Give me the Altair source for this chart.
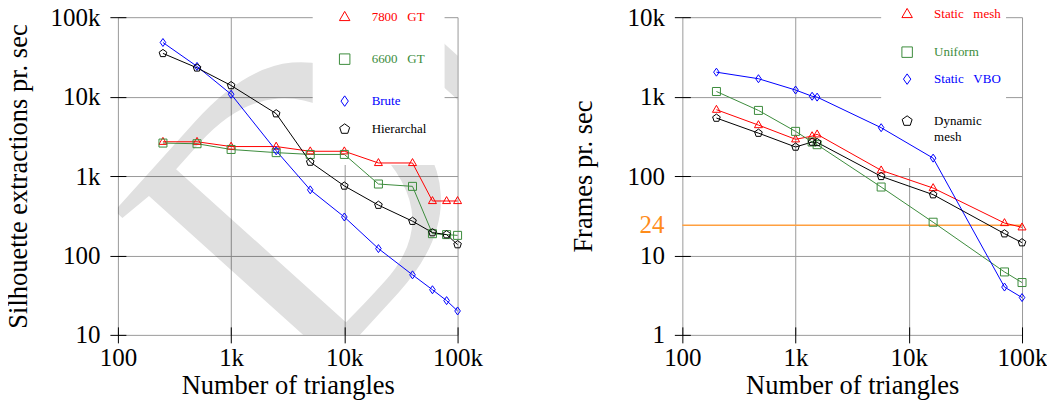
import altair as alt
import pandas as pd

# ---------------- data ----------------
left_n = [250, 500, 1000, 2500, 5000, 10000, 20000, 40000, 60000, 80000, 100000]
gt7800 = [2700, 2700, 2350, 2350, 2050, 2050, 1460, 1460, 485, 485, 485]
gt6600 = [2600, 2550, 2160, 1970, 1870, 1870, 793, 741, 188, 183, 179]
brute = [48000, 24000, 10700, 2080, 670, 305, 122, 57, 37, 27, 20]
hierarchal = [35000, 23000, 13800, 6100, 1500, 750, 430, 270, 194, 183, 137]

right_n = [200, 470, 1000, 1400, 1550, 5700, 16400, 70000, 100000]
static_mesh = [684, 438, 290, 318, 335, 118, 70.6, 25.6, 22.6]
uniform = [1160, 670, 365, 268, 248, 72.7, 26.2, 6.2, 4.56]
static_vbo = [2030, 1680, 1210, 1010, 985, 406, 168, 4.0, 2.95]
dynamic_mesh = [537, 347, 232, 268, 265, 99, 58.3, 18.8, 14.5]

left_series = ["7800 GT", "6600 GT", "Brute", "Hierarchal"]
right_series = ["Static mesh", "Uniform", "Static VBO", "Dynamic mesh"]
x_ticks = [100, 1000, 10000, 100000]
left_y_ticks = [10, 100, 1000, 10000, 100000]
right_y_ticks = [1, 10, 100, 1000, 10000]
fps_line = [24]

# ---------------- styles ----------------
SERIF = "Liberation Serif"
RED, GREEN, BLUE, BLACK = "#ff0000", "#3c8c3c", "#0000ff", "#000000"
ORANGE_LINE, ORANGE_TEXT = "#ffa040", "#ff8c1a"
GRID = "#9a9a9a"
TRI = "M0,-1.1L1,0.65L-1,0.65Z"
SQR = "M-1,-1L1,-1L1,1L-1,1Z"
DIA = "M0,-1L0.7,0L0,1L-0.7,0Z"
PENT = "M0,-1L0.951,-0.309L0.588,0.809L-0.588,0.809L-0.951,-0.309Z"
W, H = 340, 318
NBSP = "\u00a0"
WM_X, WM_Y, WM_SIZE, WM_ANGLE = 186, 380, 405, 312

label_expr = "datum.value >= 1000 ? format(datum.value/1000, 'd') + 'k' : format(datum.value, 'd')"


def long_df(xs, names, cols):
    rows = []
    for name, vals in zip(names, cols):
        for i, (x, v) in enumerate(zip(xs, vals)):
            rows.append({"series": name, "n": x, "v": v, "i": i})
    return pd.DataFrame(rows)


left_df = long_df(left_n, left_series, [gt7800, gt6600, brute, hierarchal])
right_df = long_df(right_n, right_series, [static_mesh, uniform, static_vbo, dynamic_mesh])
one = pd.DataFrame({"k": [0]})


def x_enc():
    return alt.X(
        "n:Q",
        scale=alt.Scale(type="log", domain=[100, 100000], nice=False),
        axis=alt.Axis(
            values=x_ticks, labelExpr=label_expr, title="Number of triangles",
            offset=-8, tickSize=16, domain=False, grid=True, gridColor=GRID,
            tickColor="black", labelPadding=3, labelOverlap=False, labelFlush=False,
            titleBaseline="alphabetic", titleY=67,
        ),
    )


def y_enc(domain, ticks, title):
    return alt.Y(
        "v:Q",
        scale=alt.Scale(type="log", domain=domain, nice=False),
        axis=alt.Axis(
            values=ticks, labelExpr=label_expr, title=title,
            offset=-8, tickSize=16, domain=False, grid=True, gridColor=GRID,
            tickColor="black", labelPadding=10, labelOverlap=False, labelFlush=False,
            titleBaseline="alphabetic", titleX=-99, titleY=H / 2, titleAngle=270,
        ),
    )


def panel(df, series, colors, shapes, legend, ydom, yticks, ytitle, wm_x, box, extra=None):
    base = alt.Chart(df)
    color = alt.Color("series:N", scale=alt.Scale(domain=series, range=colors), legend=None)
    shape = alt.Shape("series:N", scale=alt.Scale(domain=series, range=shapes), legend=None)

    watermark = alt.Chart(one).mark_text(
        text="Draft", font=SERIF, fontSize=WM_SIZE, angle=WM_ANGLE, align="left",
        baseline="alphabetic", color="black", opacity=0.12, clip=True,
    ).encode(x=alt.value(wm_x), y=alt.value(WM_Y))

    white = alt.Chart(one).mark_rect(color="white").encode(
        x=alt.value(box[0]), x2=alt.value(box[1]), y=alt.value(-1), y2=alt.value(box[2])
    )

    lines = base.mark_line(strokeWidth=1).encode(
        x=x_enc(), y=y_enc(ydom, yticks, ytitle), color=color, detail="series:N", order="i:Q"
    )
    points = base.mark_point(size=64, filled=False, strokeWidth=1, opacity=1).encode(
        x="n:Q", y="v:Q", color=color, shape=shape
    )

    layers = [watermark, white]
    if extra is not None:
        layers += extra
    layers += [lines, points]
    for (text, c, shp, ypos, mx, tx) in legend:
        if shp is not None:
            layers.append(
                alt.Chart(one).mark_point(shape=shp, size=110, filled=False, strokeWidth=1,
                                          color=c, opacity=1)
                .encode(x=alt.value(mx), y=alt.value(ypos))
            )
        layers.append(
            alt.Chart(one).mark_text(text=text, font=SERIF, fontSize=13, align="left",
                                     baseline="middle", color=c)
            .encode(x=alt.value(tx), y=alt.value(ypos))
        )
    return alt.layer(*layers).properties(width=W, height=H)


sp3 = NBSP * 3
left_legend = [
    ("7800" + sp3 + "GT", RED, TRI, 0, 227, 254),
    ("6600" + sp3 + "GT", GREEN, SQR, 42, 227, 254),
    ("Brute", BLUE, DIA, 84, 227, 254),
    ("Hierarchal", BLACK, PENT, 112, 227, 254),
]
right_legend = [
    ("Static" + sp3 + "mesh", RED, TRI, -3, 225, 252),
    ("Uniform", GREEN, SQR, 35, 225, 252),
    ("Static" + sp3 + "VBO", BLUE, DIA, 62, 225, 252),
    ("Dynamic", BLACK, PENT, 104, 225, 252),
    ("mesh", BLACK, None, 120, 225, 252),
]

fps_df = pd.DataFrame({"v": fps_line})
orange_rule = alt.Chart(fps_df).mark_rule(color=ORANGE_LINE, strokeWidth=1.3).encode(
    y="v:Q", x=alt.value(0), x2=alt.value(W)
)
orange_text = alt.Chart(fps_df).mark_text(
    font=SERIF, fontSize=25, align="right", baseline="middle", color=ORANGE_TEXT
).encode(y="v:Q", x=alt.value(-18), text=alt.Text("v:Q", format="d"))

left = panel(left_df, left_series, [RED, GREEN, BLUE, BLACK], [TRI, SQR, DIA, PENT],
             left_legend, [10, 100000], left_y_ticks, "Silhouette extractions pr. sec",
             WM_X, (195, 327, 148))
right = panel(right_df, right_series, [RED, GREEN, BLUE, BLACK], [TRI, SQR, PENT, DIA],
              right_legend, [1, 10000], right_y_ticks, "Frames pr. sec",
              WM_X - 565, (199, 324, 151), extra=[orange_rule, orange_text])

chart = (
    alt.hconcat(left, right, spacing=225, bounds="flush")
    .properties(padding={"left": -2, "top": -3, "right": 0, "bottom": 0}, background="white")
    .configure_view(strokeWidth=0)
    .configure_axis(
        labelFont=SERIF, labelFontSize=25, labelColor="black",
        titleFont=SERIF, titleFontSize=26.5, titleFontWeight="normal", titleColor="black",
        gridWidth=1, tickWidth=1,
    )
)

chart.save("out.html", embed_options={"renderer": "svg", "actions": False})
